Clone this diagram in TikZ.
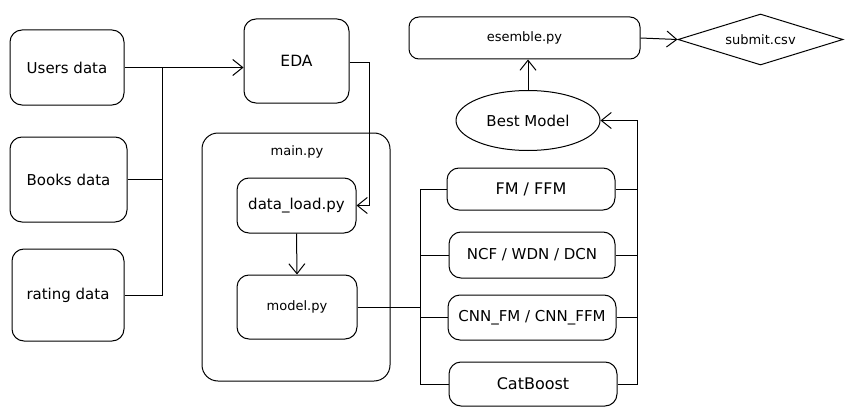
\documentclass[tikz,border=0pt]{standalone}
\usepackage{fontspec}
\setmainfont{DejaVu Sans}
\usetikzlibrary{arrows.meta,shapes.geometric}
\tikzset{
  box/.style={draw, line width=1pt, rounded corners=12pt, inner sep=0pt, align=center, font=\fontsize{15}{18}\selectfont},
  smallfont/.style={font=\fontsize{13}{15}\selectfont},
  conn/.style={line width=1pt},
  arr/.style={line width=1pt, -{Straight Barb[length=10pt,width=16pt,line width=1pt]}},
}
\begin{document}
\begin{tikzpicture}[x=1pt,y=-1pt]
\useasboundingbox (0,0) rectangle (854,420);
% left data boxes
\node[box, minimum width=114pt, minimum height=75pt] (users) at (67,67.5) {Users data};
\node[box, minimum width=117pt, minimum height=85pt] (books) at (68.5,179.5) {Books data};
\node[box, minimum width=112pt, minimum height=92pt] (rating) at (68,295) {rating data};
% EDA
\node[box, minimum width=105pt, minimum height=84pt, font=\fontsize{15.5}{18}\selectfont] (eda) at (296.5,61) {EDA};
% main.py container
\node[box, minimum width=188pt, minimum height=248pt, rounded corners=16pt] (main) at (296,257) {};
\node[smallfont, anchor=center] (mainlbl) at (297,152) {main.py};
\node[box, minimum width=119pt, minimum height=55pt] (dataload) at (296.5,205.5) {data\_load.py};
\node[box, smallfont, minimum width=120pt, minimum height=64pt] (model) at (297,307) {model.py};
% models
\node[box, minimum width=168pt, minimum height=42pt, font=\fontsize{16}{18}\selectfont] (fm) at (531,189) {FM / FFM};
\node[box, minimum width=166pt, minimum height=46pt] (ncf) at (532,255) {NCF / WDN / DCN};
\node[box, minimum width=168pt, minimum height=45pt] (cnn) at (532,317.5) {CNN\_FM / CNN\_FFM};
\node[box, minimum width=168pt, minimum height=44pt, font=\fontsize{16}{18}\selectfont] (cat) at (533,384) {CatBoost};
% best model, esemble, submit
\node[draw, line width=1pt, ellipse, minimum width=144pt, minimum height=60pt, inner sep=0pt, font=\fontsize{15}{18}\selectfont] (best) at (528,120.5) {Best Model};
\node[box, smallfont, minimum width=231pt, minimum height=42pt, rounded corners=10pt] (esemble) at (524.5,38) {esemble.py};
\node[draw, line width=1pt, diamond, aspect=3.2, minimum width=165pt, minimum height=51pt, inner sep=0pt, smallfont] (submit) at (760.5,39.5) {submit.csv};
% bus coordinates
\coordinate (busL) at (162,67);
\coordinate (edaturn) at (369,63);
\coordinate (lbus) at (420,184);
\coordinate (rbus) at (637,122);
% data to EDA
\draw[arr] (users.east) -- (users.east -| eda.west);
\draw[conn] (rating.east) -| (busL);
\draw[conn] (books.east) -- (books.east -| busL);
% EDA to data_load
\draw[arr] (eda.east |- edaturn) -| (edaturn |- dataload.east) -- (dataload.east);
% data_load to model
\draw[arr] (dataload.south) -- (model.north);
% model to left bus
\draw[conn] (model.east) -- (model.east -| lbus);
\draw[conn] (fm.west) -- (fm.west -| lbus) -- (cat.west -| lbus) -- (cat.west);
\draw[conn] (ncf.west) -- (ncf.west -| lbus);
\draw[conn] (cnn.west) -- (cnn.west -| lbus);
% right bus
\draw[arr] (cat.east) -| (rbus |- best.east) -- (best.east);
\draw[conn] (fm.east) -- (fm.east -| rbus);
\draw[conn] (ncf.east) -- (ncf.east -| rbus);
\draw[conn] (cnn.east) -- (cnn.east -| rbus);
% best to esemble to submit
\draw[arr] (best.north) -- (best.north |- esemble.south);
\draw[arr] (esemble.east) -- (submit.west);
\end{tikzpicture}
\end{document}
